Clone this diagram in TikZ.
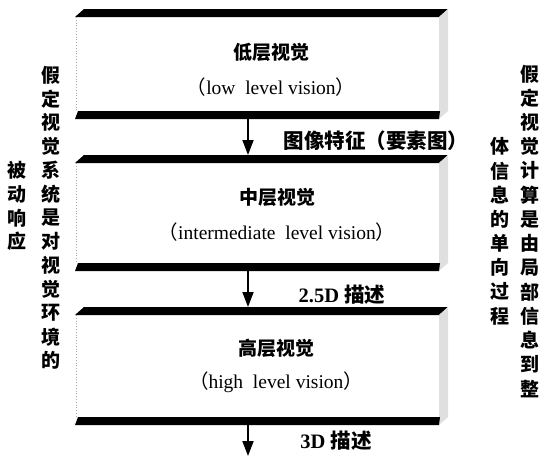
\documentclass[tikz,border=0pt]{standalone}
\usepackage{fontspec}
\setmainfont{Liberation Serif}
\newfontfamily\cjk{Noto Sans CJK SC}
\usetikzlibrary{calc,arrows.meta}
\tikzset{
  face/.style={minimum width=364pt,minimum height=#1,inner sep=0pt,outer sep=0pt},
  bar/.style={fill=black},
  side/.style={fill=gray!25},
  edge/.style={draw=gray!70,dotted,line width=0.8pt},
  arr/.style={line width=1.8pt,-{Triangle[width=11pt,length=15pt]}},
  title/.style={font=\cjk\fontsize{19}{21}\selectfont\bfseries},
  eng/.style={font=\fontsize{19.5}{21}\selectfont},
  lab/.style={font=\fontsize{20.5}{22}\selectfont\bfseries, inner sep=0pt},
  col/.style={font=\cjk\fontsize{19}{21}\selectfont\bfseries, inner sep=0pt}
}
\newcommand\slab[1]{%
  \fill[bar] (#1.north west) -- (#1.north east) -- ++(9,-8) -- ($(#1.north west)+(9,-8)$) -- cycle;
  \fill[side] (#1.north east) -- ++(9,-8) -- ($(#1.south east)+(9,-8)$) -- (#1.south east) -- cycle;
  \fill[bar] ($(#1.south west)+(0,0)$) -- (#1.south east) -- ($(#1.south east)+(1,-8)$) -- ($(#1.south west)+(3,-8)$) -- cycle;
  \draw[edge] ($(#1.north west)+(1,0)$) -- ($(#1.south west)+(1,-8)$);
}
\begin{document}
\begin{tikzpicture}[x=1pt,y=-1pt]
\useasboundingbox (0,0) rectangle (544,456);
\node[face=102pt] (b1) at (257,68) {};
\node[face=108pt] (b2) at (257,217) {};
\node[face=110pt] (b3) at (257,370) {};
\slab{b1}\slab{b2}\slab{b3}
\node[title] (t1) at (271,52) {低层视觉};
\node[eng] (e1) at (271,87) {{\cjk （}low\ \ level vision{\cjk ）}};
\node[title] (t2) at (277,197) {中层视觉};
\node[eng] (e2) at (277,232) {{\cjk （}intermediate\ \ level vision{\cjk ）}};
\node[title] (t3) at (276,348) {高层视觉};
\node[eng] (e3) at (276,382) {{\cjk （}high\ \ level vision{\cjk ）}};
\coordinate (end3) at (248,456);
\draw[arr] ($(b1.south)+(-9,0)$) -- ($(b2.north)+(-9,-8)$);
\draw[arr] ($(b2.south)+(-9,0)$) -- ($(b3.north)+(-9,-8)$);
\draw[arr] ($(b3.south)+(-9,0)$) -- (end3);
\node[lab] (l1) at (376,141) {\cjk 图像特征（要素图）};
\node[lab] (l2) at (342,295) {2.5D {\cjk 描述}};
\node[lab] (l3) at (336,441) {3D {\cjk 描述}};
\foreach \c [count=\i from 0] in {假,定,视,觉,系,统,是,对,视,觉,环,境,的}
  \node[col] (la\i) at (51,75+23.8*\i) {\c};
\foreach \c [count=\i from 4] in {被,动,响,应}
  \node[col] (lb\i) at (17,75+23.8*\i) {\c};
\foreach \c [count=\i from 0] in {假,定,视,觉,计,算,是,由,局,部,信,息,到,整}
  \node[col] (ra\i) at (530,74+24.2*\i) {\c};
\foreach \c [count=\i from 3] in {体,信,息,的,单,向,过,程}
  \node[col] (rb\i) at (500,74+24.2*\i) {\c};
\end{tikzpicture}
\end{document}
